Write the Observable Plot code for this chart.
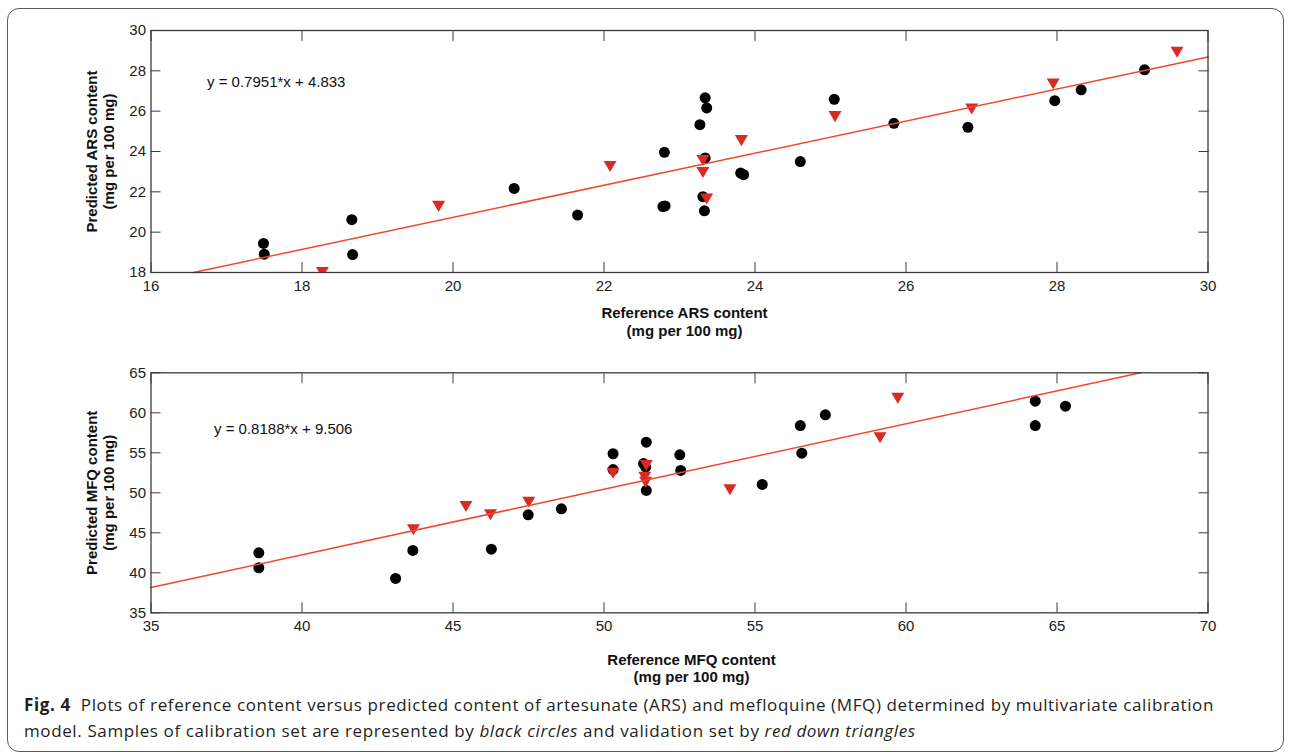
<!DOCTYPE html>
<html>
<head>
<meta charset="utf-8">
<script src="https://cdn.jsdelivr.net/npm/d3@7"></script>
<script src="https://cdn.jsdelivr.net/npm/@observablehq/plot@0.6"></script>
<style>
  body { margin: 0; background: #fff; width: 1292px; height: 752px; overflow: hidden; position: relative; font-family: "Liberation Sans", Arial, sans-serif; }
  #border { position: absolute; left: 7px; top: 8px; width: 1277px; height: 744px; border: 1px solid #5a5a5a; border-radius: 12px; box-sizing: border-box; }
  #chart1, #chart2 { position: absolute; left: 0; }
  #chart1 { top: 0; }
  #chart2 { top: 340px; }
  #caption { position: absolute; left: 24px; top: 692px; font-family: "Open Sans", "Noto Sans", sans-serif; font-size: 17px; line-height: 26px; color: #231f20; white-space: nowrap; }
  #caption b { font-weight: 700; }
</style>
</head>
<body>
<div id="border"></div>
<div id="chart1"></div>
<div id="chart2"></div>
<div id="caption"><span id="cap1"><b>Fig. 4</b>&nbsp; Plots of reference content versus predicted content of artesunate (ARS) and mefloquine (MFQ) determined by multivariate calibration</span><br><span id="cap2">model. Samples of calibration set are represented by <i>black circles</i> and validation set by <i>red down triangles</i></span></div>
<script>
// ---- ARS panel data ----
const arsXTicks = [16, 18, 20, 22, 24, 26, 28, 30];
const arsYTicks = [18, 20, 22, 24, 26, 28, 30];
const arsCalRef  = [17.49, 17.50, 18.66, 18.67, 20.81, 21.65, 22.80, 22.78, 22.81, 23.34, 23.36, 23.27, 23.34, 23.31, 23.33, 23.81, 23.85, 24.60, 25.05, 25.84, 26.82, 27.97, 28.32, 29.16];
const arsCalPred = [19.44, 18.91, 20.62, 18.89, 22.17, 20.85, 23.96, 21.27, 21.30, 26.66, 26.16, 25.33, 23.68, 21.76, 21.06, 22.93, 22.85, 23.50, 26.59, 25.40, 25.20, 26.52, 27.06, 28.05];
const arsValRef  = [18.27, 19.81, 22.08, 23.31, 23.31, 23.36, 23.82, 25.06, 26.87, 27.95, 29.59];
const arsValPred = [18.00, 21.28, 23.26, 23.55, 22.96, 21.64, 24.54, 25.73, 26.11, 27.35, 28.92];
const arsFitRef  = [16.56, 30];
const arsFitPred = [18.00, 28.69];
const arsEquation = "y = 0.7951*x + 4.833";
const arsXLabel = "Reference ARS content\n(mg per 100 mg)";
const arsYLabel = "Predicted ARS content\n(mg per 100 mg)";

// ---- MFQ panel data ----
const mfqXTicks = [35, 40, 45, 50, 55, 60, 65, 70];
const mfqYTicks = [35, 40, 45, 50, 55, 60, 65];
const mfqCalRef  = [38.57, 38.57, 43.10, 43.67, 46.27, 47.49, 48.59, 50.30, 50.30, 51.40, 51.31, 51.38, 51.40, 52.51, 52.54, 55.24, 56.50, 56.55, 57.33, 64.28, 64.28, 65.28];
const mfqCalPred = [42.50, 40.63, 39.29, 42.79, 42.95, 47.25, 48.00, 54.88, 52.90, 56.33, 53.66, 53.20, 50.29, 54.75, 52.79, 51.04, 58.41, 54.95, 59.75, 61.45, 58.41, 60.83];
const mfqValRef  = [43.69, 45.43, 46.24, 47.51, 50.30, 51.40, 51.35, 51.38, 54.17, 59.14, 59.73];
const mfqValPred = [45.38, 48.29, 47.25, 48.83, 52.45, 53.41, 51.95, 51.33, 50.38, 56.88, 61.83];
const mfqFitRef  = [35, 67.77];
const mfqFitPred = [38.16, 65.00];
const mfqEquation = "y = 0.8188*x + 9.506";
const mfqXLabel = "Reference MFQ content\n(mg per 100 mg)";
const mfqYLabel = "Predicted MFQ content\n(mg per 100 mg)";

const downTriangle = {
  draw(ctx, size) {
    const r = Math.sqrt(size / Math.PI);
    const w = r, h = r * 0.85;
    ctx.moveTo(-w, -h);
    ctx.lineTo(w, -h);
    ctx.lineTo(0, h);
    ctx.closePath();
  }
};

const zip = (xs, ys) => xs.map((x, i) => ({x, y: ys[i]}));

function panel(o) {
  return Plot.plot({
    width: 1292,
    height: o.height,
    marginLeft: 150.5,
    marginRight: 84.5,
    marginTop: o.marginTop,
    marginBottom: o.marginBottom,
    style: {fontFamily: '"Liberation Sans", Arial, sans-serif', fontSize: "15px", color: "#222", background: "transparent", overflow: "visible"},
    x: {domain: o.xDomain},
    y: {domain: o.yDomain},
    marks: [
      Plot.dot(zip(o.calX, o.calY), {x: "x", y: "y", r: 5.5, fill: "#000", stroke: null}),
      Plot.dot(zip(o.valX, o.valY), {x: "x", y: "y", r: 6.5, symbol: downTriangle, fill: "#da2a24", stroke: null, clip: true}),
      Plot.line(zip(o.fitX, o.fitY), {x: "x", y: "y", stroke: "#ec4a2c", strokeWidth: 1.5}),
      Plot.frame({stroke: "#3a3a3a", strokeWidth: 1.3}),
      Plot.axisX(o.xTicks, {anchor: "bottom", tickSize: -10, tickPadding: 18, label: null, stroke: "#3a3a3a"}),
      Plot.axisX(o.xTicks, {anchor: "top", tickSize: -10, tickFormat: () => "", label: null, stroke: "#3a3a3a"}),
      Plot.axisY(o.yTicks, {anchor: "left", tickSize: -10, tickPadding: 15, label: null, stroke: "#3a3a3a"}),
      Plot.axisY(o.yTicks, {anchor: "right", tickSize: -10, tickFormat: () => "", label: null, stroke: "#3a3a3a"}),
      Plot.text([o.eq], {frameAnchor: "top-left", dx: o.eqDx, dy: o.eqDy, textAnchor: "start", lineAnchor: "middle", fill: "#111"}),
      Plot.text([o.xLabel], {frameAnchor: "bottom", dx: o.xLabelDx, dy: o.xLabelDy, textAnchor: "middle", lineAnchor: "middle", fontWeight: "bold", lineHeight: 1.17, fill: "#111"}),
      Plot.text([o.yLabel], {frameAnchor: "left", dx: -51, rotate: -90, textAnchor: "middle", lineAnchor: "middle", fontWeight: "bold", lineHeight: 1.17, fill: "#111"})
    ]
  });
}

document.getElementById("chart1").append(panel({
  height: 340, marginTop: 30, marginBottom: 68,
  xDomain: [16, 30], yDomain: [18, 30], xTicks: arsXTicks, yTicks: arsYTicks,
  calX: arsCalRef, calY: arsCalPred, valX: arsValRef, valY: arsValPred,
  fitX: arsFitRef, fitY: arsFitPred,
  eq: arsEquation, eqDx: 56, eqDy: 52,
  xLabel: arsXLabel, xLabelDx: 5, xLabelDy: 49, yLabel: arsYLabel
}));

document.getElementById("chart2").append(panel({
  height: 345, marginTop: 32.3, marginBottom: 72.7,
  xDomain: [35, 70], yDomain: [35, 65], xTicks: mfqXTicks, yTicks: mfqYTicks,
  calX: mfqCalRef, calY: mfqCalPred, valX: mfqValRef, valY: mfqValPred,
  fitX: mfqFitRef, fitY: mfqFitPred,
  eq: mfqEquation, eqDx: 63, eqDy: 56,
  xLabel: mfqXLabel, xLabelDx: 12, xLabelDy: 55, yLabel: mfqYLabel
}));

// fit caption line width to the reference
(function () {
  const cap = document.getElementById("caption");
  const c1 = document.getElementById("cap1");
  const txt = c1.textContent.length;
  const w = c1.getBoundingClientRect().width;
  const ls = (1190 - w) / txt;
  cap.style.letterSpacing = ls + "px";
})();
</script>
</body>
</html>
